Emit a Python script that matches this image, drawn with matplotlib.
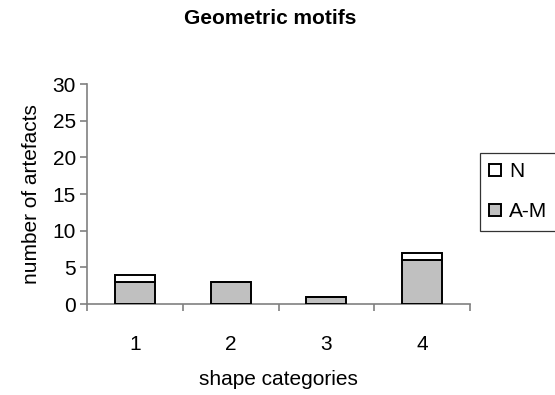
import numpy as np
import matplotlib
matplotlib.use('Agg')
import matplotlib.pyplot as plt
from matplotlib.patches import Patch

plt.rcParams['font.family'] = ['Liberation Sans', 'DejaVu Sans']

# counts per shape category
categories = ['1', '2', '3', '4']
am_counts = [3, 3, 1, 6]
n_counts = [1, 0, 0, 1]

fs = 15

fig = plt.figure(figsize=(5.55, 3.95), dpi=100)
ax = fig.add_axes([87 / 555, 1 - 304 / 395, 383 / 555, 220 / 395])

x = np.arange(len(categories))
w = 0.42
ax.bar(x, am_counts, width=w, color='#C0C0C0', edgecolor='black', linewidth=1.4, zorder=3)
ax.bar(x, n_counts, width=w, bottom=am_counts, color='white', edgecolor='black', linewidth=1.4, zorder=3)

ax.set_xlim(-0.5, len(categories) - 0.5)
ax.set_ylim(0, 30)
ax.set_yticks(range(0, 31, 5))
ax.set_xticks(x)
ax.set_xticklabels(categories)
ax.set_xticks(np.arange(-0.5, len(categories), 1.0), minor=True)

for side in ['top', 'right']:
    ax.spines[side].set_visible(False)
for side in ['left', 'bottom']:
    ax.spines[side].set_color('#808080')
    ax.spines[side].set_linewidth(1.2)

ax.tick_params(axis='x', which='major', length=0, pad=22, labelsize=fs)
ax.tick_params(axis='x', which='minor', length=5, width=1.2, color='#808080', direction='out')
ax.tick_params(axis='y', length=5, width=1.2, color='#808080', direction='out', pad=3, labelsize=fs)

ax.set_xlabel('shape categories', fontsize=fs, labelpad=12)
ax.set_ylabel('number of artefacts', fontsize=fs, labelpad=8)
fig.suptitle('Geometric motifs', fontsize=fs, fontweight='bold', x=270 / 555, y=1 - 9 / 395, va='top')

handles = [Patch(facecolor='white', edgecolor='black', linewidth=1.4, label='N'),
           Patch(facecolor='#C0C0C0', edgecolor='black', linewidth=1.4, label='A-M')]
leg = fig.legend(handles=handles, loc='upper left', bbox_to_anchor=(480 / 555, 1 - 153 / 395),
                 fontsize=fs, frameon=True, fancybox=False, handlelength=0.55, handleheight=0.55,
                 handletextpad=0.4, labelspacing=1.0, borderpad=0.45, borderaxespad=0)
leg.get_frame().set_edgecolor('black')
leg.get_frame().set_linewidth(0.9)

fig.savefig('out.png', dpi=100)
